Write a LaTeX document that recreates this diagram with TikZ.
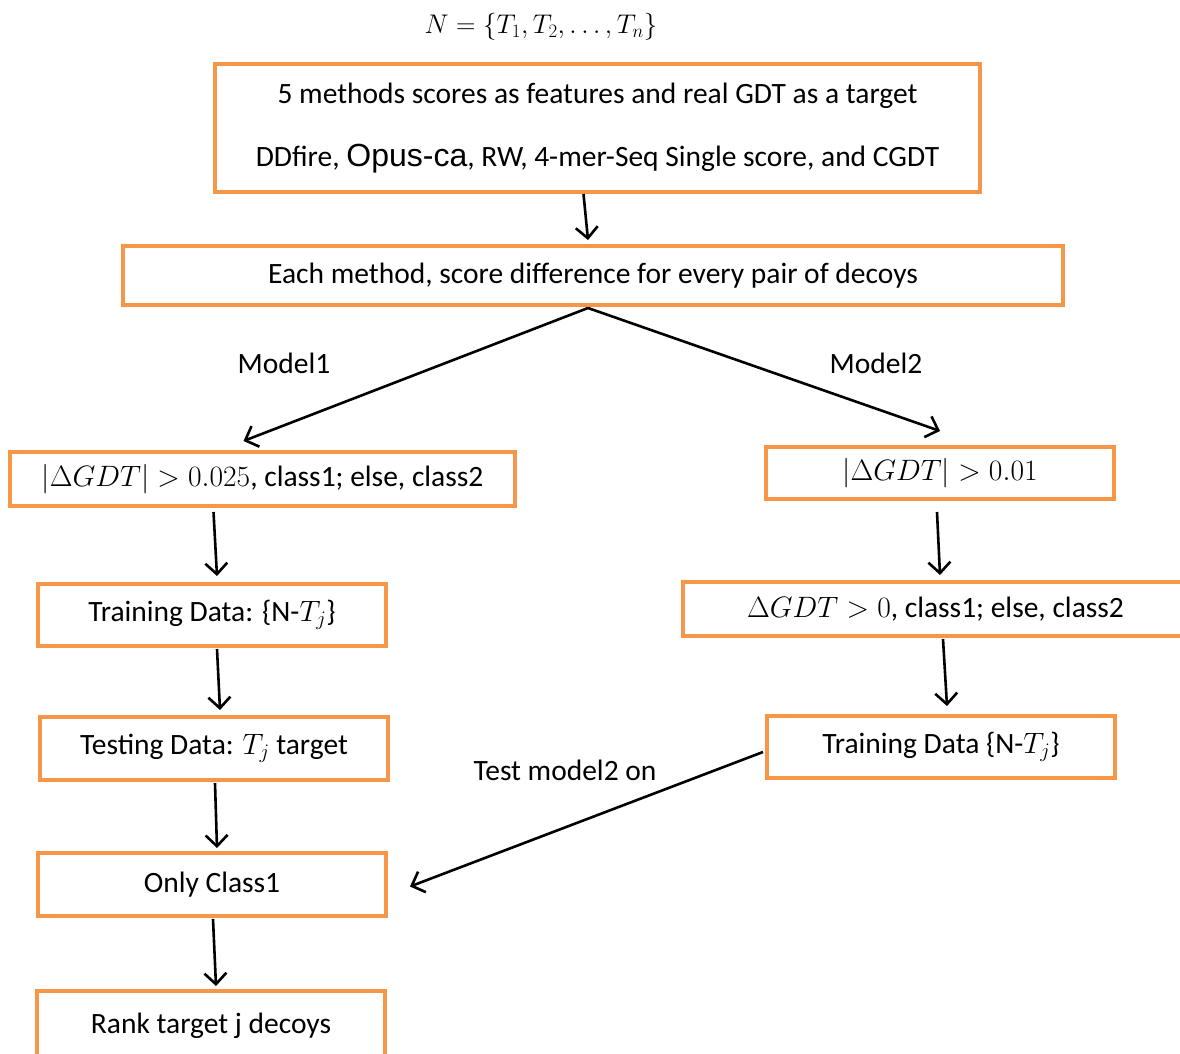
\RequirePackage{fix-cm}
\documentclass[tikz,border=0pt]{standalone}
\usepackage{fontspec}
\setmainfont{Carlito}
\newfontfamily\arialfont{Liberation Sans}
\usepackage{tikz}
\usetikzlibrary{positioning,arrows.meta,calc}
\definecolor{boxorange}{RGB}{247,150,70}
\definecolor{inkblack}{RGB}{0,0,0}
\tikzset{
    flowbox/.style={draw=boxorange, line width=4pt, rectangle, inner sep=0pt, align=center, font=\fontsize{29.5}{63}\selectfont, text=inkblack},
    arrow/.style={-{Straight Barb[length=11pt,width=22pt]}, line width=2.6pt, draw=inkblack},
    caption/.style={font=\fontsize{29.5}{34}\selectfont, text=inkblack}
}

\begin{document}
\begin{tikzpicture}[x=1pt,y=-1pt]
\useasboundingbox (0,0) rectangle (1180,1054);
\clip (0,0) rectangle (1180,1054);
% set of targets
\node[font=\fontsize{27}{32}\selectfont] (setN) at (541,27) {$N=\{T_1,T_2,\ldots,T_n\}$};
% top part
\node[flowbox, minimum width=765pt, minimum height=128pt] (feat) at (597.5,128)
    {5 methods scores as features and real GDT as a target\\
     DDfire, {\arialfont\fontsize{32}{63}\selectfont Opus-ca}, RW, 4-mer-Seq Single score, and CGDT};
\node[flowbox, minimum width=940pt, minimum height=59pt] (diff) at (593,275.5)
    {Each method, score difference for every pair of decoys};
% left branch: model 1
\node[flowbox, minimum width=505pt, minimum height=54pt] (mgdtL) at (262.5,479)
    {$|\Delta GDT|>0.025$, class1; else, class2};
\node[flowbox, minimum width=348pt, minimum height=62pt] (trainL) at (212,615)
    {Training Data: \{N-$T_j$\}};
\node[flowbox, minimum width=348pt, minimum height=63pt] (testL) at (214,748.5)
    {Testing Data: $T_j$ target};
\node[flowbox, minimum width=348pt, minimum height=63pt] (onlyL) at (212,884.5)
    {Only Class1};
\node[flowbox, minimum width=348pt, minimum height=70pt] (rankL) at (211,1026)
    {Rank target j decoys};
% right branch: model 2
\node[flowbox, minimum width=348pt, minimum height=52pt] (mgdtR) at (940,473)
    {$|\Delta GDT|>0.01$};
\node[flowbox, minimum width=505pt, minimum height=54pt] (signR) at (935.5,609)
    {$\Delta GDT>0$, class1; else, class2};
\node[flowbox, minimum width=348pt, minimum height=62pt] (trainR) at (941,747)
    {Training Data \{N-$T_j$\}};
% labels
\node[caption] (lblA) at (284,363) {Model1};
\node[caption] (lblB) at (876,363) {Model2};
\node[caption] (lblC) at (565,770) {Test model2 on};
% connectors
\draw[arrow] ([xshift=-14pt]feat.south) -- ([xshift=-5pt,yshift=4pt]diff.north);
\draw[arrow] ([xshift=-5pt,yshift=-1pt]diff.south) -- ([xshift=-19pt,yshift=9pt]mgdtL.north);
\draw[arrow] ([xshift=-5pt,yshift=-1pt]diff.south) -- ([yshift=14pt]mgdtR.north);
\draw[arrow] ([xshift=-49pt,yshift=-4pt]mgdtL.south) -- ([xshift=5pt,yshift=6pt]trainL.north);
\draw[arrow] ([xshift=5pt,yshift=-1pt]trainL.south) -- ([xshift=6pt,yshift=5pt]testL.north);
\draw[arrow] ([xshift=1pt,yshift=-1pt]testL.south) -- ([xshift=5pt,yshift=3pt]onlyL.north);
\draw[arrow] ([xshift=1pt,yshift=-1pt]onlyL.south) -- ([xshift=5pt,yshift=3pt]rankL.north);
\draw[arrow] ([xshift=-3pt,yshift=-11pt]mgdtR.south) -- ([xshift=4.5pt,yshift=5pt]signR.north);
\draw[arrow] ([xshift=7.5pt,yshift=-1pt]signR.south) -- ([xshift=6pt,yshift=8pt]trainR.north);
\draw[arrow] ([xshift=-2pt,yshift=-5pt]trainR.west) -- ([xshift=22pt,yshift=-2pt]onlyL.east);
\end{tikzpicture}
\end{document}
